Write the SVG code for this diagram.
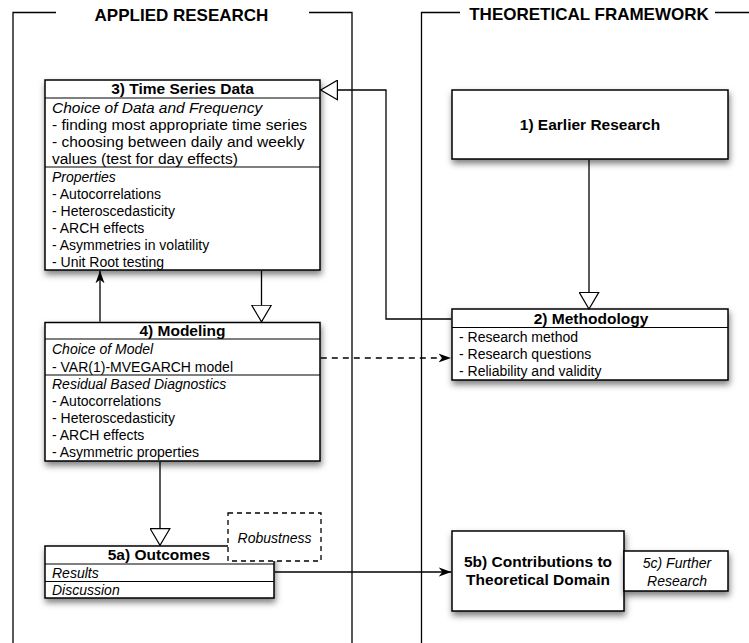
<svg xmlns="http://www.w3.org/2000/svg" width="749" height="643" viewBox="0 0 749 643">
<style>
text{font-family:"Liberation Sans",Arial,Helvetica,sans-serif;fill:#000}
.h{font-size:17px;font-weight:bold}
.t{font-size:15.5px;font-weight:bold}
.b{font-size:14px}
.bl{font-size:15.5px}
.i{font-style:italic}
.box{fill:#fff;stroke:#000;stroke-width:1.5}
.div{stroke:#000;stroke-width:1.2}
.frame{fill:none;stroke:#000;stroke-width:1.3}
.con{fill:none;stroke:#000;stroke-width:1.3}
</style>
<defs>
<filter id="sh" x="-10%" y="-15%" width="125%" height="145%">
<feDropShadow dx="1" dy="4" stdDeviation="3.2" flood-color="#000" flood-opacity="0.5"/>
</filter>
<marker id="tri" markerUnits="userSpaceOnUse" viewBox="0 0 18 21" markerWidth="18" markerHeight="21" refX="17.3" refY="10.5" orient="auto">
<path d="M0.7,0.7 L17.3,10.5 L0.7,20.3 Z" fill="#fff" stroke="#000" stroke-width="1.2"/>
</marker>
<marker id="arr" markerUnits="userSpaceOnUse" viewBox="0 0 13 10" markerWidth="13" markerHeight="10" refX="12.5" refY="5" orient="auto">
<path d="M0,0.5 L12.5,5 L0,9.5 L3.5,5 Z" fill="#000"/>
</marker>
</defs>

<g id="frames">
<path class="frame" d="M56,12.5 H13 V643 M309,12.5 H352 V643"/>
<text class="h" x="181.5" y="20.5" text-anchor="middle">APPLIED RESEARCH</text>
<path class="frame" d="M460,12.5 H421.5 V643 M715,12.5 H749"/>
<text class="h" x="589" y="20" text-anchor="middle">THEORETICAL FRAMEWORK</text>
</g>

<g id="n3">
<rect class="box" x="45" y="80" width="275" height="190" filter="url(#sh)"/>
<line class="div" x1="45" y1="98" x2="320" y2="98"/>
<line class="div" x1="45" y1="167" x2="320" y2="167"/>
<text class="t" x="182.5" y="94" text-anchor="middle">3) Time Series Data</text>
<text class="bl i" x="52" y="112.5">Choice of Data and Frequency</text>
<text class="bl" x="52" y="130">- finding most appropriate time series</text>
<text class="bl" x="52" y="147">- choosing between daily and weekly</text>
<text class="bl" x="52" y="164">values (test for day effects)</text>
<text class="b i" x="52" y="181.5">Properties</text>
<text class="b" x="52" y="198.5">- Autocorrelations</text>
<text class="b" x="52" y="215.5">- Heteroscedasticity</text>
<text class="b" x="52" y="232.5">- ARCH effects</text>
<text class="b" x="52" y="249.5">- Asymmetries in volatility</text>
<text class="b" x="52" y="266.5">- Unit Root testing</text>
</g>

<g id="n4">
<rect class="box" x="45" y="322.5" width="275" height="138.5" filter="url(#sh)"/>
<line class="div" x1="45" y1="339" x2="320" y2="339"/>
<line class="div" x1="45" y1="375" x2="320" y2="375"/>
<text class="t" x="182.5" y="336" text-anchor="middle">4) Modeling</text>
<text class="b i" x="52" y="354">Choice of Model</text>
<text class="b" x="52" y="371.5">- VAR(1)-MVEGARCH model</text>
<text class="b i" x="52" y="388.5">Residual Based Diagnostics</text>
<text class="b" x="52" y="405.5">- Autocorrelations</text>
<text class="b" x="52" y="422.5">- Heteroscedasticity</text>
<text class="b" x="52" y="439.5">- ARCH effects</text>
<text class="b" x="52" y="456.5">- Asymmetric properties</text>
</g>

<g id="n1">
<rect class="box" x="452" y="90" width="276" height="69" filter="url(#sh)"/>
<text class="t" x="590" y="130" text-anchor="middle">1) Earlier Research</text>
</g>

<g id="n2">
<rect class="box" x="452" y="309" width="276" height="71" filter="url(#sh)"/>
<line class="div" x1="452" y1="327.5" x2="728" y2="327.5"/>
<text class="t" x="591" y="324" text-anchor="middle">2) Methodology</text>
<text class="b" x="459" y="341.5">- Research method</text>
<text class="b" x="459" y="358.5">- Research questions</text>
<text class="b" x="459" y="375.5">- Reliability and validity</text>
</g>

<g id="n5a">
<rect class="box" x="45" y="546" width="229" height="52" filter="url(#sh)"/>
<line class="div" x1="45" y1="564" x2="274" y2="564"/>
<line class="div" x1="45" y1="581.5" x2="274" y2="581.5"/>
<text class="t" x="159" y="560" text-anchor="middle">5a) Outcomes</text>
<text class="b i" x="52" y="578">Results</text>
<text class="b i" x="52" y="595">Discussion</text>
</g>

<g id="robustness">
<rect x="228" y="513" width="93" height="48" fill="#fff" stroke="#000" stroke-width="1.3" stroke-dasharray="5,4"/>
<text class="b i" x="274.5" y="543" text-anchor="middle">Robustness</text>
</g>

<g id="n5b">
<rect class="box" x="452" y="531" width="172" height="80" filter="url(#sh)"/>
<text class="t" x="538" y="567" text-anchor="middle">5b) Contributions to</text>
<text class="t" x="538" y="585" text-anchor="middle">Theoretical Domain</text>
</g>

<g id="n5c">
<rect class="box" x="624" y="551" width="104" height="40" filter="url(#sh)"/>
<text class="b i" x="677" y="568" text-anchor="middle">5c) Further</text>
<text class="b i" x="677" y="586" text-anchor="middle">Research</text>
</g>

<g id="connectors">
<path class="con" d="M589,159.8 V309" marker-end="url(#tri)"/>
<path class="con" d="M451.2,319 H386 V90 H320.8" marker-end="url(#tri)"/>
<path class="con" d="M261.5,270.8 V321.8" marker-end="url(#tri)"/>
<path class="con" d="M100,321.7 V270.8" marker-end="url(#arr)"/>
<path class="con" d="M320.8,358 H451" stroke-dasharray="6,5" marker-end="url(#arr)"/>
<path class="con" d="M160,461.8 V545.3" marker-end="url(#tri)"/>
<path class="con" d="M274.8,572 H451.3" marker-end="url(#arr)"/>
</g>
</svg>
